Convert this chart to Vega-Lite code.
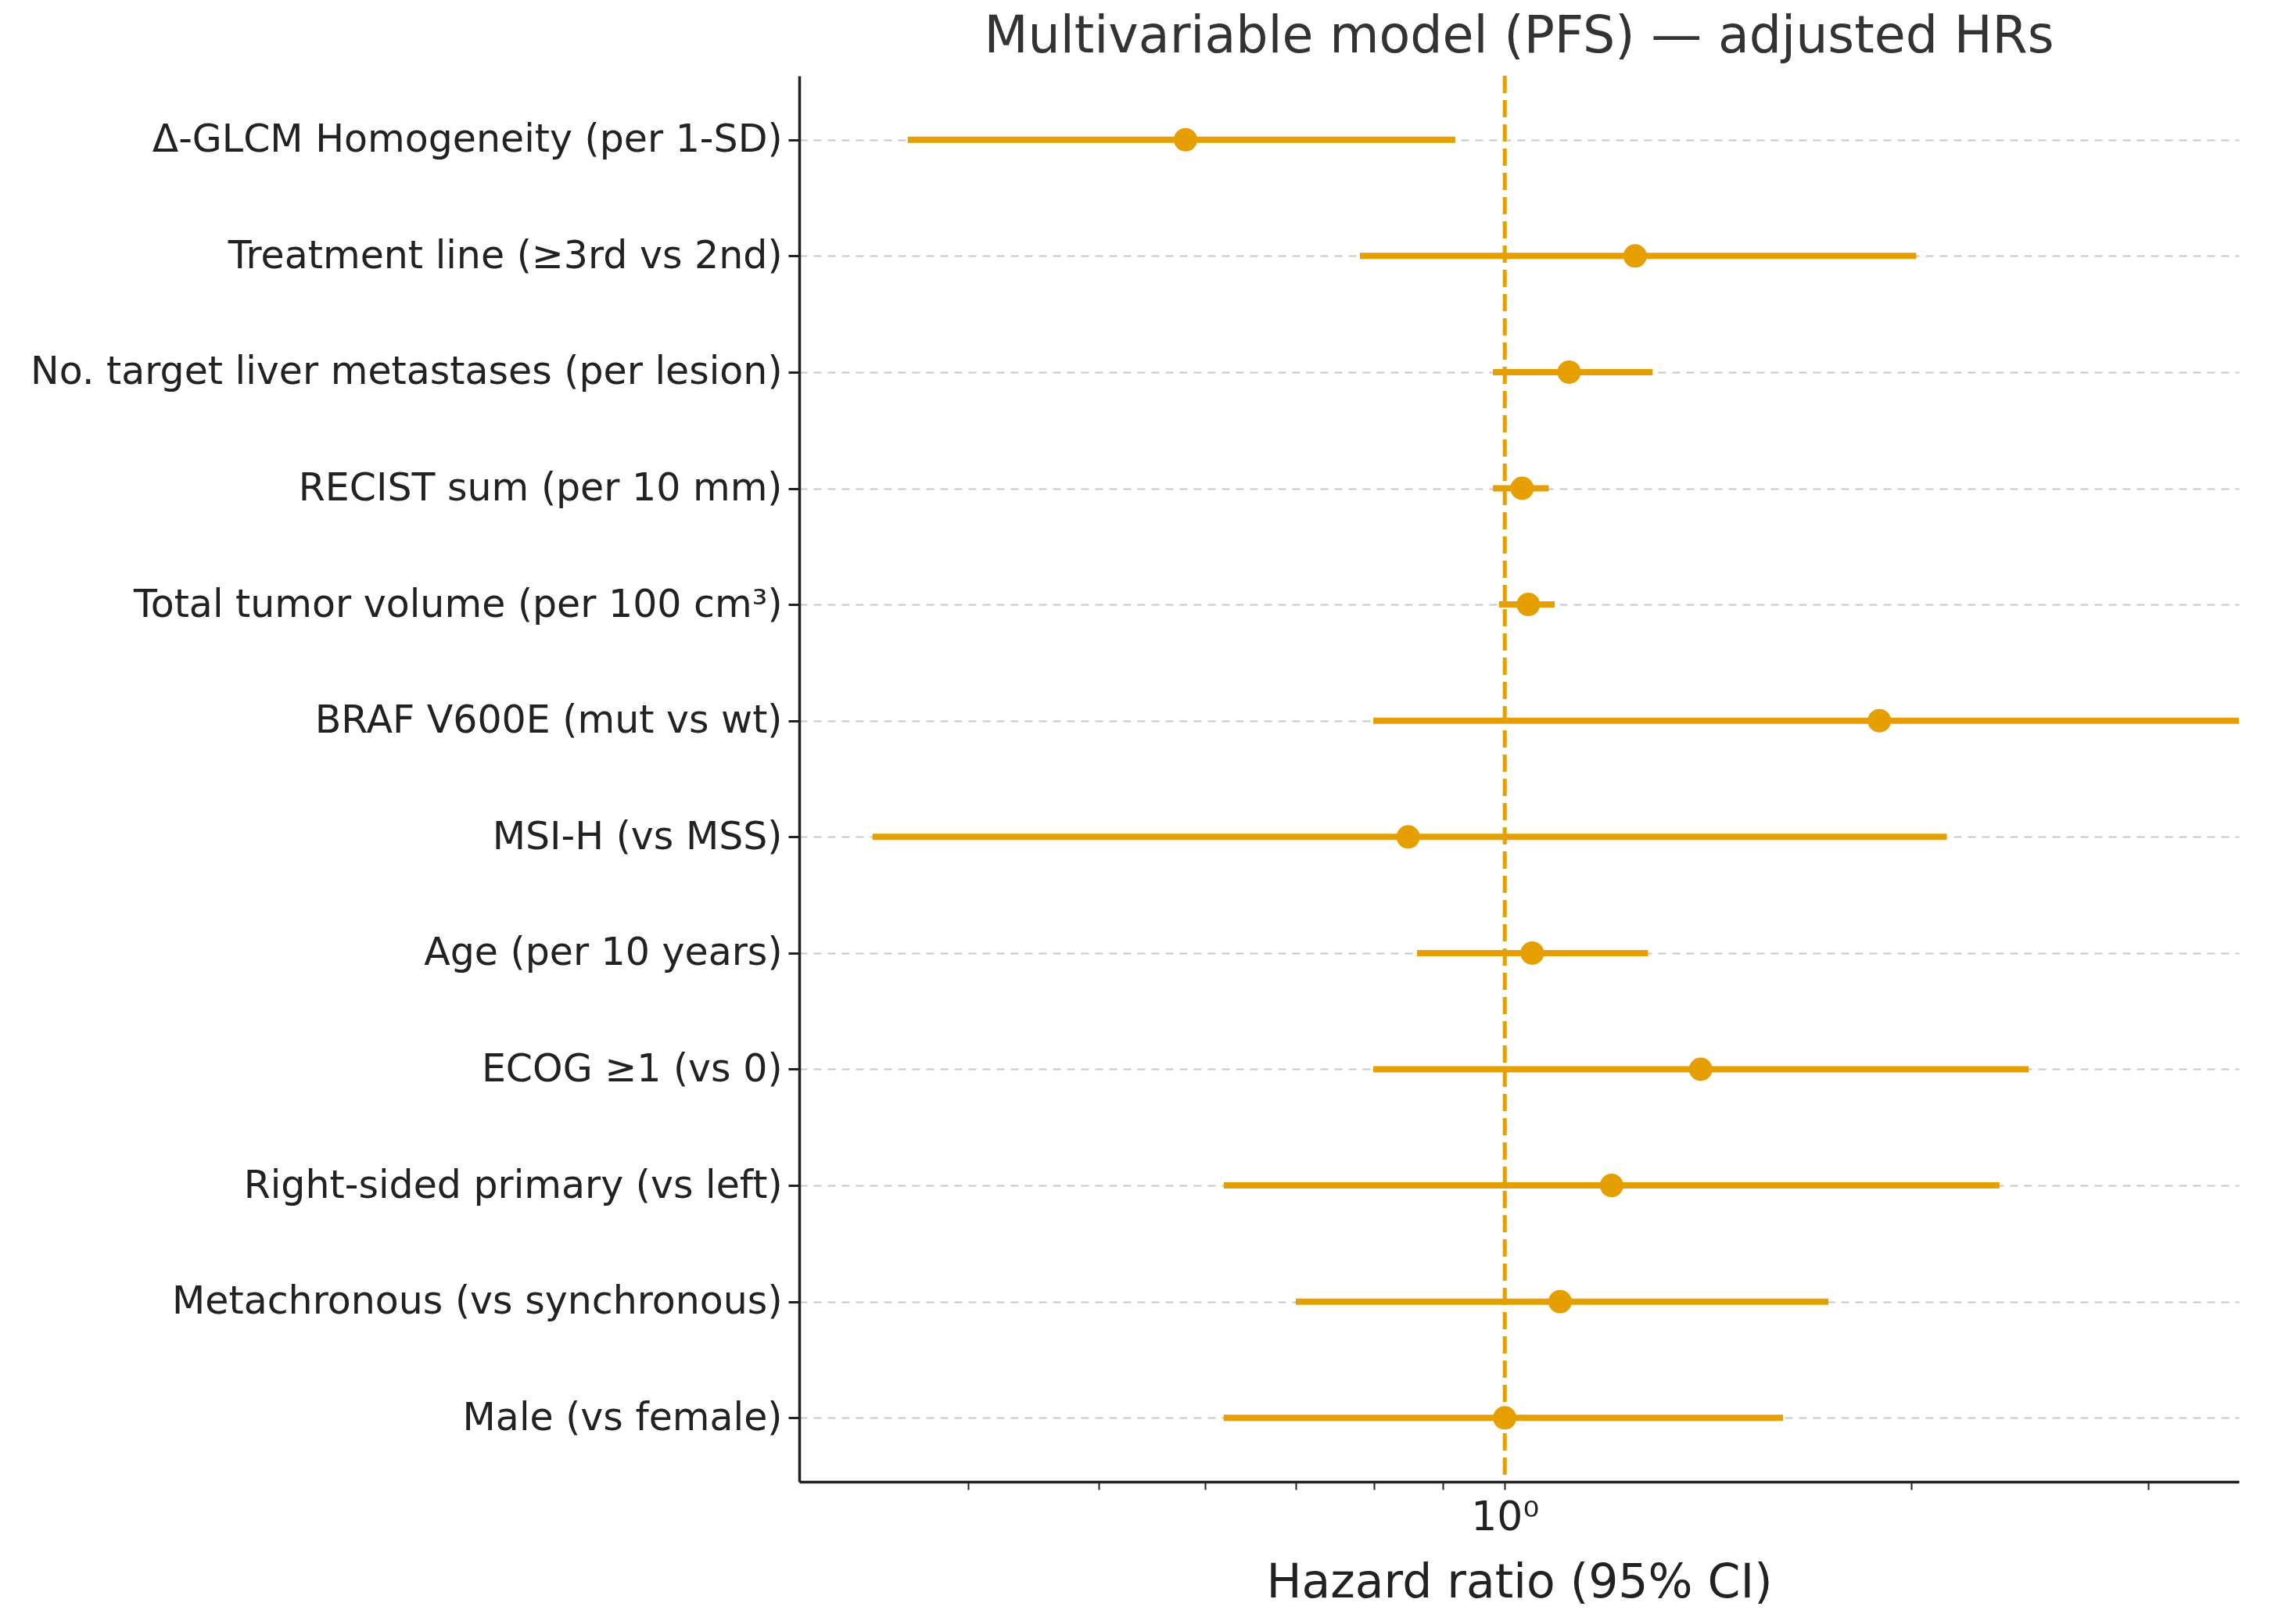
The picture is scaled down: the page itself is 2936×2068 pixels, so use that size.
{
  "$schema": "https://vega.github.io/schema/vega-lite/v6.json",
  "width": 1841,
  "height": 1798,
  "autosize": {"type": "none"},
  "padding": {"left": 1022, "top": 97, "right": 73, "bottom": 173},
  "background": "white",
  "config": {"view": {"stroke": null}, "font": "DejaVu Sans"},
  "title": {
    "text": "Multivariable model (PFS) — adjusted HRs",
    "fontSize": 65,
    "font": "DejaVu Sans",
    "fontWeight": "normal",
    "color": "#333333",
    "anchor": "middle",
    "frame": "group",
    "offset": 14
  },
  "data": {
    "values": [
      {"variable": "Δ-GLCM Homogeneity (per 1-SD)", "hr": 0.580, "lo": 0.361, "hi": 0.919},
      {"variable": "Treatment line (≥3rd vs 2nd)", "hr": 1.249, "lo": 0.781, "hi": 2.018},
      {"variable": "No. target liver metastases (per lesion)", "hr": 1.116, "lo": 0.980, "hi": 1.287},
      {"variable": "RECIST sum (per 10 mm)", "hr": 1.030, "lo": 0.980, "hi": 1.078},
      {"variable": "Total tumor volume (per 100 cm³)", "hr": 1.041, "lo": 0.990, "hi": 1.089},
      {"variable": "BRAF V600E (mut vs wt)", "hr": 1.895, "lo": 0.799, "hi": 3.6},
      {"variable": "MSI-H (vs MSS)", "hr": 0.848, "lo": 0.340, "hi": 2.126},
      {"variable": "Age (per 10 years)", "hr": 1.048, "lo": 0.861, "hi": 1.277},
      {"variable": "ECOG ≥1 (vs 0)", "hr": 1.397, "lo": 0.799, "hi": 2.445},
      {"variable": "Right-sided primary (vs left)", "hr": 1.200, "lo": 0.619, "hi": 2.326},
      {"variable": "Metachronous (vs synchronous)", "hr": 1.099, "lo": 0.700, "hi": 1.737},
      {"variable": "Male (vs female)", "hr": 1.000, "lo": 0.619, "hi": 1.608}
    ]
  },
  "layer": [
    {
      "mark": {"type": "rule", "color": "#E69F00", "strokeWidth": 8, "clip": true},
      "encoding": {
        "y": {
          "field": "variable",
          "type": "nominal",
          "sort": null,
          "scale": {"type": "point", "padding": 0.55},
          "axis": {
            "title": null,
            "labelFontSize": 49,
            "labelColor": "#222222",
            "labelFont": "DejaVu Sans",
            "labelLimit": 0,
            "labelPadding": 8,
            "tickSize": 14,
            "tickWidth": 3,
            "tickColor": "#222222",
            "domainColor": "#222222",
            "domainWidth": 3.5,
            "grid": true,
            "gridColor": "#c8c8c8",
            "gridDash": [10, 8],
            "gridWidth": 2
          }
        },
        "x": {
          "field": "lo",
          "type": "quantitative",
          "scale": {"type": "log", "domain": [0.3, 3.5], "nice": false},
          "axis": {
            "title": "Hazard ratio (95% CI)",
            "titleFontSize": 60,
            "titleFontWeight": "normal",
            "titleColor": "#222222",
            "titleFont": "DejaVu Sans",
            "titleY": 147,
            "titleBaseline": "alphabetic",
            "values": [0.4, 0.5, 0.6, 0.7, 0.8, 0.9, 1, 2, 3],
            "labelExpr": "datum.value == 1 ? '10⁰' : ''",
            "labelFontSize": 52,
            "labelColor": "#222222",
            "labelFont": "DejaVu Sans",
            "labelOverlap": false,
            "labelFlush": false,
            "labelPadding": 10,
            "tickSize": 10,
            "tickWidth": 2,
            "tickColor": "#222222",
            "domainColor": "#222222",
            "domainWidth": 3.5,
            "grid": false
          }
        },
        "x2": {"field": "hi"}
      }
    },
    {
      "data": {"values": [{"ref": 1}]},
      "mark": {"type": "rule", "color": "#E69F00", "strokeWidth": 5, "strokeDash": [22, 9]},
      "encoding": {"x": {"field": "ref", "type": "quantitative"}}
    },
    {
      "mark": {"type": "circle", "color": "#E69F00", "size": 900, "opacity": 1},
      "encoding": {
        "y": {"field": "variable", "type": "nominal", "sort": null},
        "x": {"field": "hr", "type": "quantitative"}
      }
    }
  ]
}
